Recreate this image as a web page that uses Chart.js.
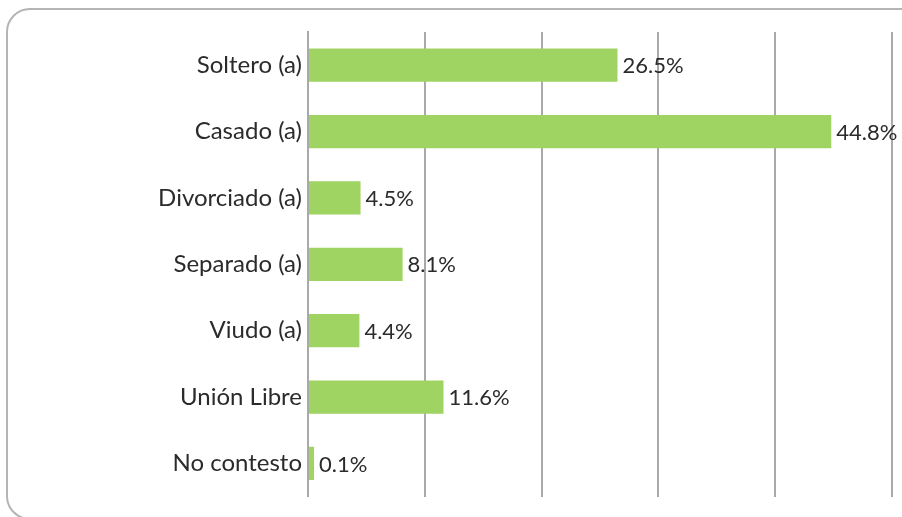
<!DOCTYPE html>
<html>
<head>
<meta charset="utf-8">
<script src="https://cdn.jsdelivr.net/npm/chart.js@4.4.1/dist/chart.umd.min.js"></script>
<style>
  html, body { margin: 0; padding: 0; background: #ffffff; }
  #wrap { position: relative; width: 902px; height: 517px; overflow: hidden; }
  #frame { position: absolute; left: 6px; top: 8px; width: 940px; height: 512px;
           border: 2px solid #b4b4b4; border-radius: 24px; box-sizing: border-box; }
  canvas { position: absolute; left: 0; top: 0; }
</style>
</head>
<body>
<div id="wrap">
  <div id="frame"></div>
  <canvas id="c" width="902" height="517"></canvas>
</div>
<script>
const categories = ["Soltero (a)", "Casado (a)", "Divorciado (a)", "Separado (a)", "Viudo (a)", "Unión Libre", "No contesto"];
const values = [26.5, 44.8, 4.5, 8.1, 4.4, 11.6, 0.1];
const valueLabels = ["26.5%", "44.8%", "4.5%", "8.1%", "4.4%", "11.6%", "0.1%"];
const axisMin = 0;
const axisMax = 50;
const axisStep = 10;

const barLabelPlugin = {
  id: 'barLabels',
  afterDatasetsDraw(chart) {
    const ctx = chart.ctx;
    const meta = chart.getDatasetMeta(0);
    ctx.save();
    ctx.font = '22px Lato, "Open Sans", sans-serif';
    ctx.fillStyle = '#2b2b2b';
    ctx.textAlign = 'left';
    ctx.textBaseline = 'middle';
    meta.data.forEach((bar, i) => {
      ctx.fillText(valueLabels[i], bar.x + 5, bar.y + 1);
    });
    ctx.restore();
  }
};

new Chart(document.getElementById('c'), {
  type: 'bar',
  data: {
    labels: categories,
    datasets: [{
      data: values,
      backgroundColor: '#9fd462',
      borderWidth: 0,
      categoryPercentage: 1.0,
      barPercentage: 0.5,
      minBarLength: 6
    }]
  },
  options: {
    indexAxis: 'y',
    responsive: false,
    animation: false,
    devicePixelRatio: 1,
    layout: { padding: { top: 32, bottom: 17, right: 10, left: 0 } },
    plugins: { legend: { display: false }, tooltip: { enabled: false } },
    scales: {
      x: {
        min: axisMin, max: axisMax,
        ticks: { display: false, stepSize: axisStep },
        grid: { color: '#a9a9a9', lineWidth: 2, drawTicks: false },
        border: { display: false }
      },
      y: {
        afterFit(scale) { scale.width = 308; },
        ticks: { color: '#2b2b2b', font: { family: 'Lato, "Open Sans", sans-serif', size: 24 }, padding: 6 },
        grid: { display: false, drawTicks: false },
        border: { display: true, color: '#a9a9a9', width: 2 }
      }
    }
  },
  plugins: [barLabelPlugin]
});
</script>
</body>
</html>
